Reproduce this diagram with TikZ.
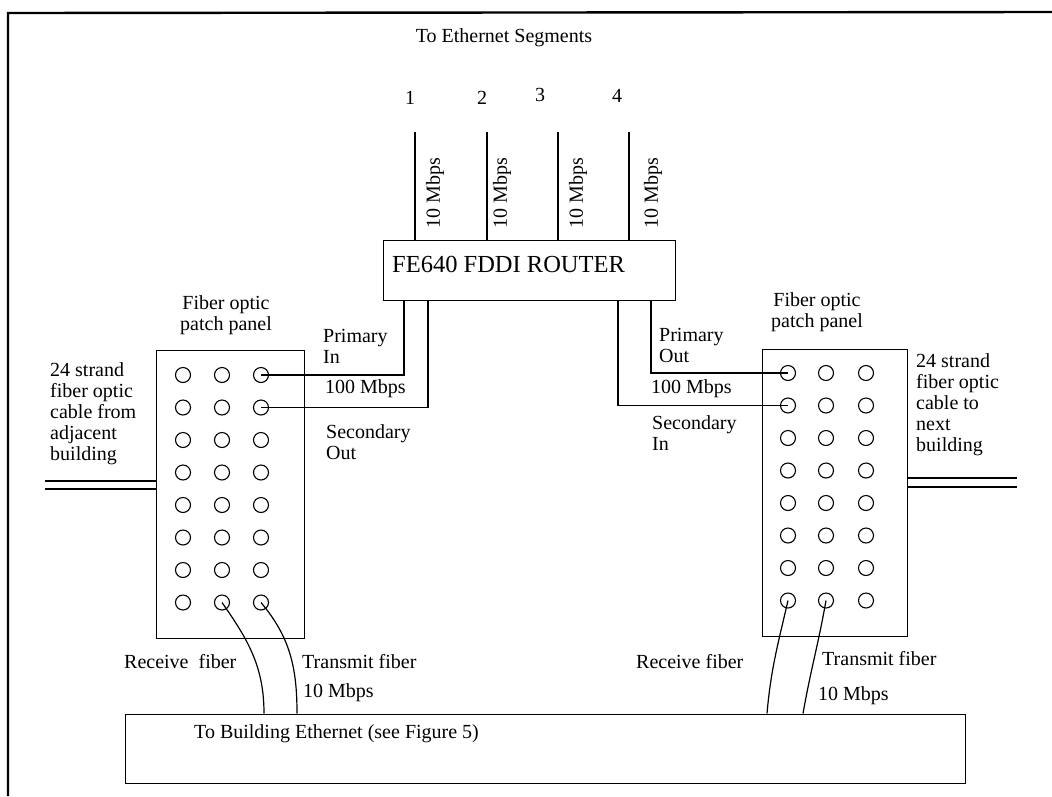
\documentclass[tikz,border=0pt]{standalone}
\usepackage{fontspec}
\setmainfont{Liberation Serif}
\usetikzlibrary{positioning,calc}

\begin{document}
\begin{tikzpicture}[x=1pt,y=-1pt,
   box/.style={draw,line width=1.2pt,inner sep=0pt},
   lbl/.style={inner sep=0pt,font=\fontsize{20}{21}\selectfont,align=left},
   hole/.style={draw,circle,line width=1.1pt,minimum size=15pt,inner sep=0pt},
   wire/.style={line width=1.2pt},
   frame/.style={line width=2.4pt}]
  \useasboundingbox (0,0) rectangle (1052,796);
  \draw[frame] (8,796) -- (8,13) -- (1052,12);

  % router and the four segments
  \node[box,anchor=north west,minimum width=292pt,minimum height=60pt] (router) at (383,240) {};
  \node[lbl,anchor=west,font=\fontsize{24.5}{26}\selectfont] (routertxt) at (392,264) {FE640 FDDI ROUTER};
  \node[lbl] (segtitle) at (504,38) {To Ethernet Segments};
  \foreach \i/\x/\nx/\ny/\rx in {1/415/410/98/435, 2/487/482/98/502, 3/558/540/95/578, 4/629/617/96/653} {
    \node[lbl] (num\i) at (\nx,\ny) {\i};
    \coordinate (seg\i) at (\x,132);
    \draw[wire] (seg\i) -- (seg\i |- router.north);
    \node[lbl,rotate=90] (rate\i) at (\rx,193) {10 Mbps};
  }

  % patch panels
  \node[box,anchor=north west,minimum width=148pt,minimum height=288pt] (lpanel) at (156,350) {};
  \node[box,anchor=north west,minimum width=145pt,minimum height=287pt] (rpanel) at (762,349) {};
  \foreach \r in {1,...,8} {
    \foreach \c/\x in {1/183,2/222,3/261}
      \node[hole] (lp-\r-\c) at (\x,{375+32.5*(\r-1)}) {};
    \foreach \c/\x in {1/788,2/826,3/866}
      \node[hole] (rp-\r-\c) at (\x,{373+32.5*(\r-1)}) {};
  }
  \node[lbl,align=center] (lpanelttl) at (226,315) {Fiber optic\\patch panel};
  \node[lbl,align=center] (rpanelttl) at (817,312) {Fiber optic\\patch panel};

  % 100 Mbps ring
  \coordinate (priin) at (404,300);
  \coordinate (secout) at (428,300);
  \coordinate (secin) at (618,300);
  \coordinate (priout) at (651,300);
  \draw[wire] (priin) |- (lp-1-3.center);
  \draw[wire] (secout) |- (lp-2-3.center);
  \draw[wire] (priout) |- (rp-1-1.center);
  \draw[wire] (secin) |- (rp-2-1.center);
  \node[lbl,anchor=west] (priintxt) at (323,346) {Primary\\In};
  \node[lbl,anchor=west] (lringrate) at (325,389) {100 Mbps};
  \node[lbl,anchor=west] (secouttxt) at (326,442) {Secondary\\Out};
  \node[lbl,anchor=west] (priouttxt) at (659,345) {Primary\\Out};
  \node[lbl,anchor=west] (rringrate) at (651,389) {100 Mbps};
  \node[lbl,anchor=west] (secintxt) at (652,433) {Secondary\\In};

  % building cables
  \coordinate (lcab1) at (45,481);
  \coordinate (lcab2) at (45,489);
  \coordinate (rcab1) at (1017,478);
  \coordinate (rcab2) at (1017,487);
  \draw[wire] (lcab1) -- (lcab1 -| lpanel.west);
  \draw[wire] (lcab2) -- (lcab2 -| lpanel.west);
  \draw[wire] (rpanel.east |- rcab1) -- (rcab1);
  \draw[wire] (rpanel.east |- rcab2) -- (rcab2);
  \node[lbl,anchor=west] (lcabtxt) at (50,413.5) {24 strand\\fiber optic\\cable from\\adjacent\\building};
  \node[lbl,anchor=west] (rcabtxt) at (916,405) {24 strand\\fiber optic\\cable to\\next\\building};

  % building ethernet
  \node[box,anchor=north west,minimum width=840pt,minimum height=69pt] (bldg) at (125,713.5) {};
  \node[lbl,anchor=west] (bldgtxt) at (194,734) {To Building Ethernet (see Figure 5)};
  \coordinate (lrx) at (264,713.5);
  \coordinate (ltx) at (297,713.5);
  \coordinate (rrx) at (767,713.5);
  \coordinate (rtx) at (803,713.5);
  \draw[wire] (lp-8-2.center) to[out=-55,in=90] (lrx);
  \draw[wire] (lp-8-3.center) to[out=-50,in=90] (ltx);
  \draw[wire] (rp-8-1.center) to[out=-103,in=85] (rrx);
  \draw[wire] (rp-8-2.center) to[out=-100,in=80] (rtx);
  \node[lbl,anchor=west] (lrxtxt) at (124,662) {Receive\ \ fiber};
  \node[lbl,anchor=west] (ltxtxt) at (302,662) {Transmit fiber};
  \node[lbl,anchor=west] (lfrate) at (303,693) {10 Mbps};
  \node[lbl,anchor=west] (rrxtxt) at (636,662) {Receive fiber};
  \node[lbl,anchor=west] (rtxtxt) at (822,659) {Transmit fiber};
  \node[lbl,anchor=west] (rfrate) at (818,696) {10 Mbps};
\end{tikzpicture}
\end{document}
